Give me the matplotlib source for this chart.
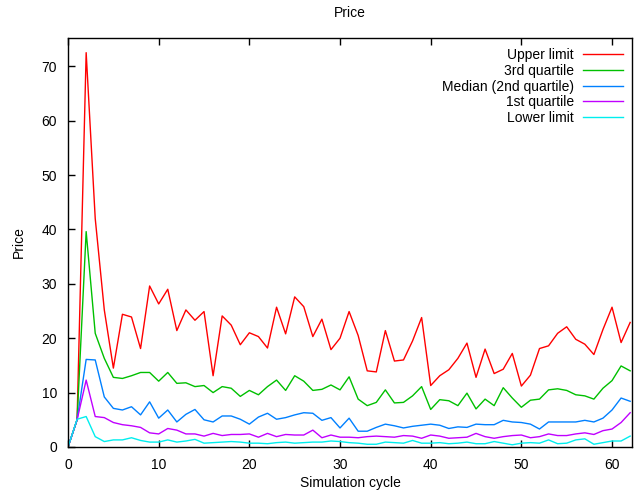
import numpy as np
import matplotlib.pyplot as plt

plt.rcParams['font.family'] = ['Liberation Sans', 'DejaVu Sans']

# Ciclos de simulación 0..62
cycles = np.arange(63)

upper = [0, 5.0, 72.5, 42, 25.2, 14.5, 24.4, 23.9, 18.1, 29.6, 26.3, 29.0, 21.4, 25.2, 23.3, 24.9,
         13.1, 24.1, 22.4, 18.8, 21.0, 20.3, 18.2, 25.7, 20.8, 27.6, 25.8, 20.3, 23.5, 17.9, 20.0,
         24.9, 20.5, 14.0, 13.8, 21.4, 15.8, 16.0, 19.5, 23.8, 11.3, 13.1, 14.2, 16.3, 19.1, 12.8,
         18.0, 13.5, 14.3, 17.2, 11.2, 13.2, 18.1, 18.6, 20.9, 22.1, 19.8, 18.9, 17.0, 21.6, 25.7,
         19.2, 22.9]
q3 = [0, 5.0, 39.6, 20.9, 16.3, 12.8, 12.6, 13.1, 13.7, 13.7, 12.1, 13.7, 11.7, 11.8, 11.1, 11.3,
      10.0, 11.1, 10.8, 9.3, 10.4, 9.6, 11.1, 12.3, 10.4, 13.1, 12.1, 10.4, 10.6, 11.4, 10.5,
      12.9, 8.8, 7.6, 8.2, 10.5, 8.1, 8.2, 9.4, 11.1, 6.9, 8.7, 8.5, 7.6, 9.9, 7.0, 8.8, 7.6,
      10.9, 9.0, 7.3, 8.6, 8.8, 10.5, 10.7, 10.4, 9.6, 9.4, 8.8, 10.8, 12.2, 14.9, 14.0]
median = [0, 5.0, 16.1, 16.0, 9.2, 7.1, 6.8, 7.4, 5.9, 8.3, 5.3, 6.8, 4.6, 6.0, 6.9, 5.0, 4.6,
          5.7, 5.7, 5.1, 4.2, 5.5, 6.2, 5.1, 5.4, 5.9, 6.3, 6.2, 4.9, 5.4, 3.5, 5.3, 2.9, 2.9,
          3.6, 4.2, 3.9, 3.5, 3.8, 4.0, 4.2, 4.0, 3.4, 3.7, 3.6, 4.2, 4.1, 4.1, 4.9, 4.6, 4.5,
          4.2, 3.3, 4.6, 4.6, 4.6, 4.6, 4.9, 4.6, 5.3, 6.8, 9.0, 8.4]
q1 = [0, 5.0, 12.3, 5.6, 5.4, 4.5, 4.1, 3.9, 3.6, 2.6, 2.4, 3.4, 3.1, 2.4, 2.4, 2.0, 2.5, 2.1,
      2.3, 2.3, 2.4, 1.8, 2.5, 1.9, 2.3, 2.2, 2.2, 3.1, 1.7, 2.2, 1.8, 1.8, 1.7, 1.9, 2.0, 1.9,
      1.8, 2.1, 2.0, 1.6, 2.2, 2.0, 1.6, 1.7, 1.8, 2.5, 1.9, 1.6, 1.9, 2.1, 2.2, 1.7, 1.9, 2.4,
      2.1, 2.1, 2.4, 2.6, 2.3, 3.0, 3.3, 4.5, 6.3]
lower = [0, 5.1, 5.6, 1.9, 1.0, 1.3, 1.3, 1.7, 1.2, 0.9, 0.9, 1.3, 0.9, 1.1, 1.4, 0.7, 0.8, 0.9,
         1.0, 0.9, 0.7, 0.7, 0.6, 0.8, 0.9, 0.7, 0.8, 0.9, 0.9, 1.1, 1.0, 0.8, 0.7, 0.5, 0.5,
         0.9, 0.8, 0.7, 1.2, 0.7, 0.7, 0.8, 0.6, 0.7, 0.9, 0.6, 0.6, 1.0, 0.7, 0.4, 0.7, 0.8,
         0.7, 1.3, 0.6, 0.7, 1.3, 1.5, 0.5, 0.8, 1.1, 1.1, 2.0]

series = [
    ('Upper limit', upper, '#ff0000'),
    ('3rd quartile', q3, '#00c000'),
    ('Median (2nd quartile)', median, '#0080ff'),
    ('1st quartile', q1, '#c000ff'),
    ('Lower limit', lower, '#00eeee'),
]

fig = plt.figure(figsize=(6.34, 4.92), dpi=100)
ax = fig.add_axes([0.1073, 0.0915, 0.8895, 0.8313])

for label, vals, color in series:
    ax.plot(cycles, vals, color=color, linewidth=1.0, label=label)

ax.set_xlim(0, 62.2)
ax.set_ylim(0, 75.2)
ax.set_xticks(range(0, 61, 10))
ax.set_yticks(range(0, 71, 10))
ax.tick_params(direction='in', length=5, width=1, top=True, right=False, labelsize=10)
ax.tick_params(axis='x', pad=8)
ax.tick_params(axis='y', pad=8)
for s in ax.spines.values():
    s.set_linewidth(1.0)

ax.set_title('Price', fontsize=10, pad=15)
ax.set_xlabel('Simulation cycle', fontsize=10, labelpad=3)
ax.set_ylabel('Price', fontsize=10, labelpad=11)

ax.legend(loc='upper right', bbox_to_anchor=(0.999, 0.995), frameon=False, markerfirst=False,
          fontsize=10, handlelength=2.9, labelspacing=0.12, handletextpad=0.65, borderaxespad=0.2)

fig.savefig('out.png', dpi=100)
